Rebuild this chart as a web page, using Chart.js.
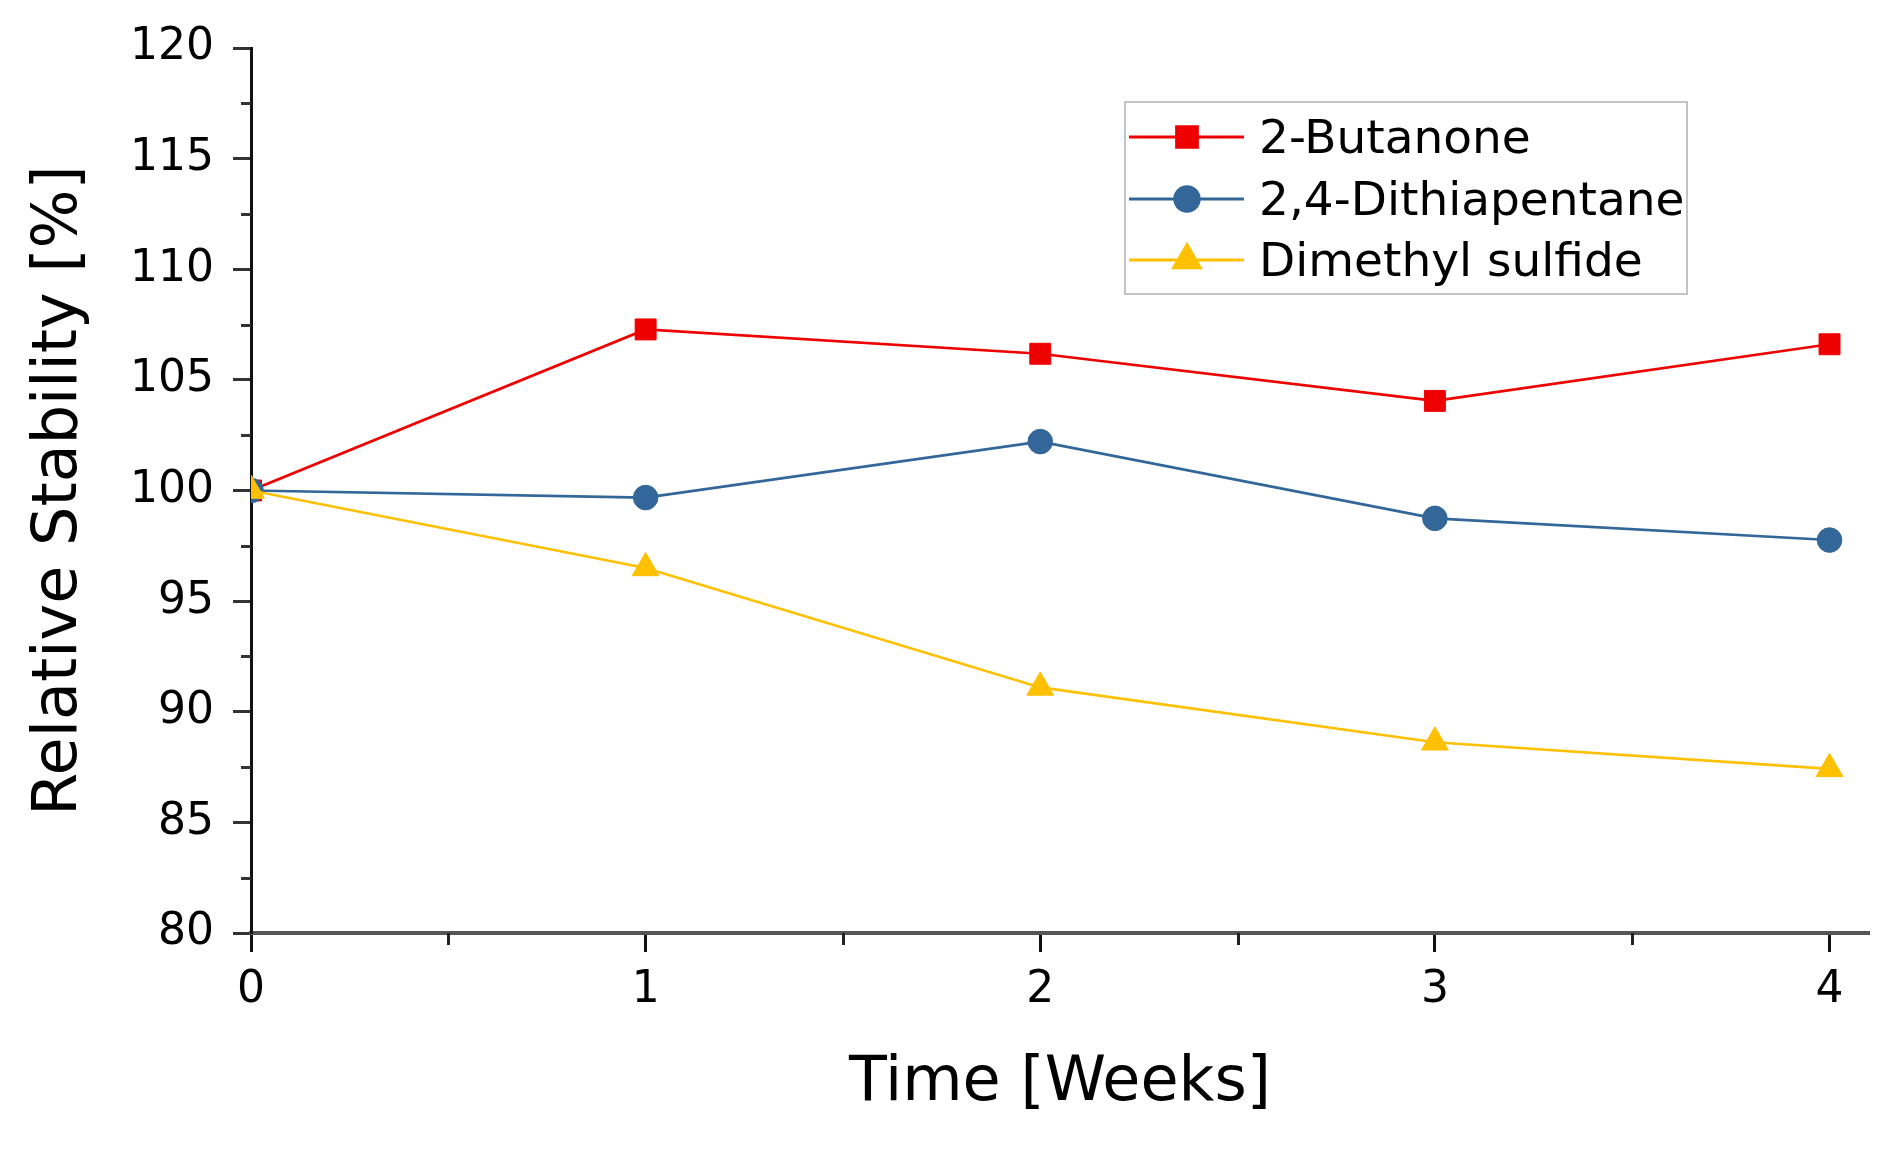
<!DOCTYPE html>
<html><head><meta charset="utf-8">
<script src="https://cdn.jsdelivr.net/npm/chart.js@4/dist/chart.umd.min.js"></script>
<style>html,body{margin:0;padding:0;background:#fff;overflow:hidden}#wrap{width:1899px;height:1153px;position:relative}</style>
</head><body><div id="wrap"><canvas id="c" width="1899" height="1153"></canvas></div>
<script>
// ---- data ----
const weeks = [0, 1, 2, 3, 4];
const butanone = [100, 107.28, 106.18, 104.05, 106.61];
const dithiapentane = [100, 99.68, 102.21, 98.74, 97.76];
const dimethylSulfide = [100, 96.5, 91.1, 88.62, 87.42];
const seriesNames = ['2-Butanone', '2,4-Dithiapentane', 'Dimethyl sulfide'];
const xTickValues = [0, 0.5, 1, 1.5, 2, 2.5, 3, 3.5, 4];
const yTickValues = [80, 82.5, 85, 87.5, 90, 92.5, 95, 97.5, 100, 102.5, 105, 107.5, 110, 112.5, 115, 117.5, 120];
const xLabel = 'Time [Weeks]';
const yLabel = 'Relative Stability [%]';

const FONT = "'DejaVu Sans', Verdana, sans-serif";
const RED = '#EE0000', BLUE = '#336699', YELLOW = '#FFC000';

function pts(vals) { return weeks.map((w, i) => ({x: w, y: vals[i]})); }

const minorTicks = {
  id: 'minorTicks',
  afterDraw(chart) {
    const {ctx, chartArea, scales} = chart;
    ctx.save();
    ctx.lineWidth = 3;
    ctx.strokeStyle = '#333';
    yTickValues.filter(v => v % 5 !== 0).forEach(v => {
      const p = Math.round(scales.y.getPixelForValue(v)) + 0.5;
      ctx.beginPath(); ctx.moveTo(chartArea.left - 10, p); ctx.lineTo(chartArea.left, p); ctx.stroke();
    });
    ctx.strokeStyle = '#222';
    xTickValues.filter(v => v % 1 !== 0).forEach(v => {
      const p = Math.round(scales.x.getPixelForValue(v)) + 0.5;
      ctx.beginPath(); ctx.moveTo(p, chartArea.bottom); ctx.lineTo(p, chartArea.bottom + 12); ctx.stroke();
    });
    ctx.restore();
  }
};

const customLegend = {
  id: 'customLegend',
  afterDraw(chart) {
    const ctx = chart.ctx;
    const box = {x: 1125, y: 102, w: 562, h: 192};
    ctx.save();
    ctx.fillStyle = '#fff';
    ctx.fillRect(box.x, box.y, box.w, box.h);
    ctx.strokeStyle = '#c4c4c4';
    ctx.lineWidth = 2;
    ctx.strokeRect(box.x, box.y, box.w, box.h);
    const rows = [137, 199, 260];
    chart.data.datasets.forEach((ds, i) => {
      const cy = rows[i];
      ctx.strokeStyle = ds.borderColor;
      ctx.lineWidth = 2.8;
      ctx.beginPath(); ctx.moveTo(1129, cy); ctx.lineTo(1244, cy); ctx.stroke();
      ctx.fillStyle = ds.pointBackgroundColor;
      ctx.strokeStyle = ds.pointBorderColor;
      Chart.helpers.drawPoint(ctx, {pointStyle: ds.pointStyle, radius: ds.pointRadius, borderWidth: 1, rotation: 0}, 1187, cy);
      ctx.fillStyle = '#000';
      ctx.font = '47px ' + FONT;
      ctx.textBaseline = 'middle';
      ctx.textAlign = 'left';
      ctx.fillText(ds.label, 1259, cy + 4);
    });
    ctx.restore();
  }
};

new Chart(document.getElementById('c'), {
  type: 'line',
  data: {
    datasets: [
      {label: seriesNames[0], data: pts(butanone), borderColor: RED, backgroundColor: RED,
       pointBackgroundColor: RED, pointBorderColor: RED, pointStyle: 'rect', pointRadius: 14.8, pointBorderWidth: 1,
       borderWidth: 2.6, order: 2, clip: 0},
      {label: seriesNames[1], data: pts(dithiapentane), borderColor: BLUE, backgroundColor: BLUE,
       pointBackgroundColor: BLUE, pointBorderColor: BLUE, pointStyle: 'circle', pointRadius: 12.3, pointBorderWidth: 1,
       borderWidth: 2.6, order: 1, clip: 0},
      {label: seriesNames[2], data: pts(dimethylSulfide), borderColor: YELLOW, backgroundColor: YELLOW,
       pointBackgroundColor: YELLOW, pointBorderColor: YELLOW, pointStyle: 'triangle', pointRadius: 15.5, pointBorderWidth: 1,
       borderWidth: 2.6, order: 0, clip: 0}
    ]
  },
  options: {
    responsive: false,
    animation: false,
    devicePixelRatio: 1,
    layout: {padding: {top: 48, right: 30, left: 0, bottom: 0}},
    plugins: {legend: {display: false}, tooltip: {enabled: false}},
    elements: {line: {tension: 0}},
    scales: {
      x: {
        type: 'linear', min: 0, max: 4.1,
        afterBuildTicks: s => { s.ticks = xTickValues.map(v => ({value: v})); },
        afterFit: s => { s.height = 220; },
        ticks: {autoSkip: false, maxRotation: 0, color: '#000', padding: 12,
                font: {family: FONT, size: 44},
                callback: v => (v % 1 === 0 ? String(v) : '')},
        grid: {drawOnChartArea: false, drawTicks: true, tickLength: 19, tickWidth: 3,
               tickColor: c => (c.tick && c.tick.value % 1 === 0 ? '#111' : 'rgba(0,0,0,0)')},
        border: {display: true, color: '#555', width: 4},
        title: {display: true, text: xLabel, color: '#000', font: {family: FONT, size: 62},
                padding: {top: 0, bottom: 32}}
      },
      y: {
        type: 'linear', min: 80, max: 120,
        afterBuildTicks: s => { s.ticks = yTickValues.map(v => ({value: v})); },
        afterFit: s => { s.width = 251; },
        ticks: {autoSkip: false, color: '#000', padding: 19,
                font: {family: FONT, size: 44},
                callback: v => (v % 5 === 0 ? String(v) : '')},
        grid: {drawOnChartArea: false, drawTicks: true, tickLength: 18, tickWidth: 3,
               tickColor: c => (c.tick && c.tick.value % 5 === 0 ? '#333' : 'rgba(0,0,0,0)')},
        border: {display: true, color: '#111', width: 3},
        title: {display: true, text: yLabel, color: '#000', font: {family: FONT, size: 62},
                padding: {top: 23, bottom: 0}}
      }
    }
  },
  plugins: [minorTicks, customLegend]
});
</script></body></html>
